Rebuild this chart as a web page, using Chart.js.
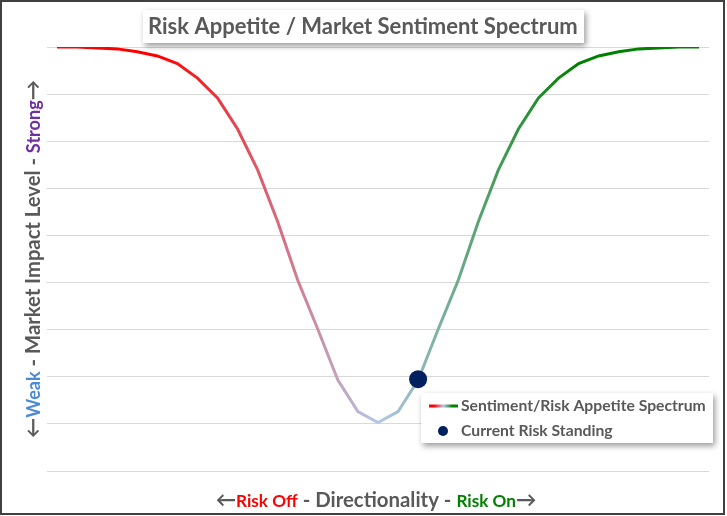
<!DOCTYPE html>
<html>
<head>
<meta charset="utf-8">
<script src="https://cdn.jsdelivr.net/npm/chart.js@4.4.1/dist/chart.umd.min.js"></script>
<style>
    html, body { margin: 0; padding: 0; background: #fff; }
    #wrap { width: 727px; height: 516px; position: relative; }
</style>
</head>
<body>
<div id="wrap"><canvas id="riskChart"></canvas></div>
<script>
// Chart data
const positions = ['1', '2', '3', '4', '5', '6', '7', '8', '9', '10', '11',
    '12', '13', '14', '15', '16', '17', '18', '19', '20', '21', '22',
    '23', '24', '25', '26', '27', '28', '29', '30', '31', '32', '33'];
const spectrumValues = [9.00, 9.00, 8.98, 8.96, 8.90, 8.81, 8.65, 8.34, 7.92, 7.26, 6.39,
    5.29, 4.05, 3.01, 1.93, 1.26, 1.03, 1.26, 1.93, 3.01, 4.05, 5.29,
    6.39, 7.26, 7.92, 8.34, 8.65, 8.81, 8.90, 8.96, 8.98, 9.00, 9.00];
const currentPosition = '19';
const currentValue = 1.95;
const yTicks = [0, 1, 2, 3, 4, 5, 6, 7, 8, 9];

const chartTitle = 'Risk Appetite / Market Sentiment Spectrum';
const seriesNames = ['Sentiment/Risk Appetite Spectrum', 'Current Risk Standing'];

const GRAY = '#595959';
const NAVY = '#002060';
const FONT = 'Lato, "Open Sans", sans-serif';

// Horizontal red -> light blue -> green stroke
function spectrumGradient(ctx, x0, x1) {
    const g = ctx.createLinearGradient(x0, 0, x1, 0);
    g.addColorStop(0, '#ff0000');
    g.addColorStop(0.17, '#ff0000');
    g.addColorStop(0.5, '#b4c7e7');
    g.addColorStop(0.8, '#008000');
    g.addColorStop(1, '#008000');
    return g;
}

// draw coloured pieces of text one after another, centred on cx
function drawSegments(ctx, segs, cx, baseline, targetWidth) {
    let total = 0;
    segs.forEach(s => {
        ctx.font = `${s.weight} ${s.size}px ${FONT}`;
        total += ctx.measureText(s.text).width;
    });
    const k = targetWidth / total;
    let width = 0;
    segs.forEach(s => {
        ctx.font = `${s.weight} ${s.size * k}px ${FONT}`;
        width += ctx.measureText(s.text).width;
    });
    let x = cx - width / 2;
    ctx.textBaseline = 'alphabetic';
    ctx.textAlign = 'left';
    segs.forEach(s => {
        ctx.font = `${s.weight} ${s.size * k}px ${FONT}`;
        ctx.fillStyle = s.color;
        ctx.fillText(s.text, x, baseline);
        x += ctx.measureText(s.text).width;
    });
}

function shadowBox(ctx, x, y, w, h) {
    ctx.save();
    ctx.shadowColor = 'rgba(0, 0, 0, 0.4)';
    ctx.shadowBlur = 6;
    ctx.shadowOffsetX = 2;
    ctx.shadowOffsetY = 3;
    ctx.fillStyle = '#ffffff';
    ctx.fillRect(x, y, w, h);
    ctx.restore();
}

function fitSize(ctx, text, weight, targetWidth) {
    ctx.font = `${weight} 20px ${FONT}`;
    return 20 * targetWidth / ctx.measureText(text).width;
}

const decorations = {
    id: 'decorations',
    afterDraw(chart) {
        const ctx = chart.ctx;
        ctx.save();

        // outer frame
        ctx.strokeStyle = '#404040';
        ctx.lineWidth = 2;
        ctx.strokeRect(1, 1, 723, 513);

        // title box
        shadowBox(ctx, 143, 10, 441, 33);
        ctx.fillStyle = GRAY;
        ctx.textAlign = 'left';
        ctx.textBaseline = 'alphabetic';
        ctx.font = `700 ${fitSize(ctx, chartTitle, 700, 430)}px ${FONT}`;
        ctx.fillText(chartTitle, 148, 34);

        // y axis title
        ctx.save();
        ctx.translate(40, 259);
        ctx.rotate(-Math.PI / 2);
        drawSegments(ctx, [
            { text: '\u2190', weight: 700, size: 19, color: GRAY },
            { text: 'Weak', weight: 700, size: 17, color: '#4a8ad8' },
            { text: ' - Market Impact Level - ', weight: 700, size: 19, color: GRAY },
            { text: 'Strong', weight: 700, size: 17, color: '#7030a0' },
            { text: '\u2192', weight: 700, size: 19, color: GRAY }
        ], 0, 0, 358);
        ctx.restore();

        // x axis title
        drawSegments(ctx, [
            { text: '\u2190', weight: 700, size: 19, color: GRAY },
            { text: 'Risk Off', weight: 700, size: 16, color: '#ff0000' },
            { text: ' - Directionality - ', weight: 700, size: 19, color: GRAY },
            { text: 'Risk On', weight: 700, size: 16, color: '#008000' },
            { text: '\u2192', weight: 700, size: 19, color: GRAY }
        ], 376, 507, 321);

        // legend
        shadowBox(ctx, 421, 393, 292, 50);
        ctx.lineWidth = 3;
        ctx.strokeStyle = spectrumGradient(ctx, 429, 458);
        ctx.beginPath();
        ctx.moveTo(429, 406);
        ctx.lineTo(458, 406);
        ctx.stroke();
        ctx.fillStyle = NAVY;
        ctx.beginPath();
        ctx.arc(443, 431, 5, 0, Math.PI * 2);
        ctx.fill();
        ctx.fillStyle = GRAY;
        ctx.textBaseline = 'middle';
        const legSize = fitSize(ctx, seriesNames[0], 700, 245);
        ctx.font = `700 ${legSize}px ${FONT}`;
        ctx.fillText(seriesNames[0], 461, 406);
        ctx.fillText(seriesNames[1], 461, 431);

        ctx.restore();
    }
};

const ctx = document.getElementById('riskChart').getContext('2d');
new Chart(ctx, {
    type: 'line',
    data: {
        labels: positions,
        datasets: [{
            label: seriesNames[1],
            data: positions.map(p => p === currentPosition ? currentValue : null),
            showLine: false,
            pointRadius: 9,
            pointBackgroundColor: NAVY,
            pointBorderColor: NAVY,
            borderWidth: 0
        }, {
            label: seriesNames[0],
            data: spectrumValues,
            borderWidth: 3,
            tension: 0,
            pointRadius: 0,
            borderColor(context) {
                const area = context.chart.chartArea;
                if (!area) return '#ff0000';
                return spectrumGradient(context.chart.ctx, area.left, area.right);
            }
        }]
    },
    options: {
        responsive: true,
        maintainAspectRatio: false,
        animation: false,
        layout: { padding: { left: 47, top: 47, right: 18, bottom: 37 } },
        plugins: {
            legend: { display: false },
            title: { display: false },
            tooltip: { enabled: false }
        },
        scales: {
            x: {
                offset: true,
                grid: { display: false },
                border: { display: false },
                ticks: { display: false }
            },
            y: {
                min: yTicks[0],
                max: yTicks[yTicks.length - 1],
                afterBuildTicks(scale) {
                    scale.ticks = yTicks.map(v => ({ value: v }));
                },
                grid: { color: '#d9d9d9', drawTicks: false },
                border: { display: false },
                ticks: { display: false }
            }
        }
    },
    plugins: [decorations]
});
</script>
</body>
</html>
